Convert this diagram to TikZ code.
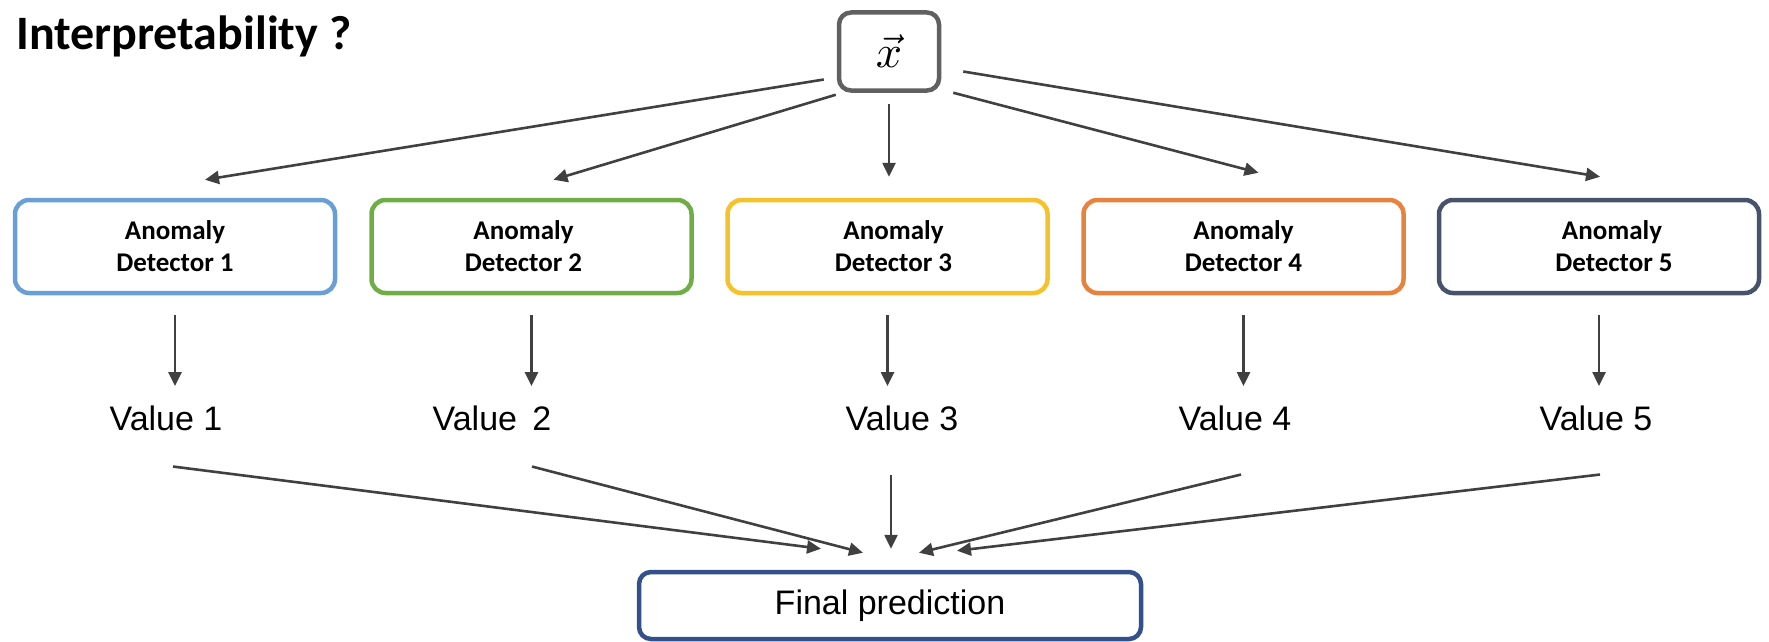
\documentclass[tikz,border=0pt]{standalone}
\usepackage{graphicx}
\usepackage{fontspec}
\setmainfont{Carlito}
\newfontfamily\arialf{Liberation Sans}
\usetikzlibrary{arrows.meta}
\definecolor{cblue}{HTML}{6A9FD4}
\definecolor{cgreen}{HTML}{70AD47}
\definecolor{cyellow}{HTML}{F5C22B}
\definecolor{corange}{HTML}{E8823F}
\definecolor{cslate}{HTML}{46536A}
\definecolor{cfinal}{HTML}{34508A}
\definecolor{cgray}{HTML}{606060}
\definecolor{carrow}{HTML}{404040}
\tikzset{
  detbox/.style={draw, line width=4.5pt, rounded corners=14pt, minimum width=320pt, minimum height=93pt, inner sep=0pt, align=center, font=\fontsize{27}{32}\selectfont\bfseries},
  valtext/.style={inner sep=0pt, anchor=base, font=\arialf\fontsize{34}{36}\selectfont},
  arr/.style={draw=carrow, line width=2.6pt, -{Triangle[length=14pt,width=13pt]}},
}
\begin{document}
\begin{tikzpicture}[x=1pt,y=-1pt]
\useasboundingbox (0,0) rectangle (1769,642);
\node[anchor=base west, inner sep=0pt, font=\fontsize{48}{52}\selectfont\bfseries] (title) at (16,49) {Interpretability ?};
\node[draw=cgray, line width=4.5pt, rounded corners=12pt, minimum width=100pt, minimum height=78pt, inner sep=0pt, font=\fontsize{10}{12}\selectfont] (xb) at (889,51.5) {\scalebox{4.6}{$\vec{x}$}};

\node[detbox, draw=cblue]   (d1) at (175,246.5) {Anomaly\\Detector 1};
\node[detbox, draw=cgreen]  (d2) at (531.5,246.5) {Anomaly\hspace*{16pt}\\Detector 2\hspace*{16pt}};
\node[detbox, draw=cyellow] (d3) at (887.5,246.5) {\hspace*{12pt}Anomaly\\\hspace*{12pt}Detector 3};
\node[detbox, draw=corange] (d4) at (1243.5,246.5) {Anomaly\\Detector 4};
\node[detbox, draw=cslate]  (d5) at (1599,246.5) {\hspace*{26pt}Anomaly\\\hspace*{30pt}Detector 5};

\node[valtext] (v1) at (166,430) {Value 1};
\node[valtext] (v2) at (492,430) {Value\hspace{0.45em}2};
\node[valtext] (v3) at (902,430) {Value 3};
\node[valtext] (v4) at (1235,430) {Value 4};
\node[valtext] (v5) at (1596,430) {Value 5};

\node[draw=cfinal, line width=4.5pt, rounded corners=12pt, minimum width=502pt, minimum height=67pt, inner sep=0pt, font=\arialf\fontsize{34}{36}\selectfont] (fp) at (890,605.5) {Final prediction};

% top fan-out
\draw[arr] ([xshift=-13pt,yshift=-28pt]xb.west) -- ([xshift=30pt,yshift=18pt]d1.north);
\draw[arr] ([xshift=-1pt,yshift=-2pt]xb.south west) -- ([xshift=22pt,yshift=18pt]d2.north);
\draw[arr] ([yshift=-11pt]xb.south) -- ([yshift=21pt]xb.south |- d3.north);
\draw[arr] ([xshift=12pt,yshift=0pt]xb.south east) -- ([xshift=15pt,yshift=25pt]d4.north);
\draw[arr] ([xshift=22pt,yshift=-20pt]xb.east) -- ([xshift=1pt,yshift=21pt]d5.north);

% detector to value
\foreach \i in {1,...,5}{
  \draw[arr] ([yshift=-20pt]d\i.south) -- ([yshift=-386pt]d\i.south |- 0,0);
}

% value to final
\draw[arr] ([xshift=7pt,yshift=-36pt]v1.south) -- ([xshift=-69pt,yshift=21pt]fp.north);
\draw[arr] ([xshift=40pt,yshift=-36pt]v2.south) -- ([xshift=-27pt,yshift=17pt]fp.north);
\draw[arr] ([xshift=-11pt,yshift=-44pt]v3.south) -- ([xshift=1pt,yshift=21pt]fp.north);
\draw[arr] ([xshift=6pt,yshift=-44pt]v4.south) -- ([xshift=29pt,yshift=17pt]fp.north);
\draw[arr] ([xshift=4pt,yshift=-44pt]v5.south) -- ([xshift=67pt,yshift=19pt]fp.north);
\end{tikzpicture}
\end{document}
